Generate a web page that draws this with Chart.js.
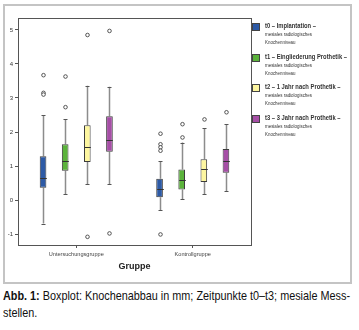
<!DOCTYPE html>
<html>
<head>
<meta charset="utf-8">
<script src="https://cdn.jsdelivr.net/npm/chart.js@4"></script>
<style>
body{margin:0;width:359px;height:330px;background:#fff;position:relative;overflow:hidden;font-family:"Liberation Sans",Arial,sans-serif;}
#rahmen{position:absolute;left:3px;top:4px;width:345px;height:276px;border:2px solid #c4c4c4;}
#chart{position:absolute;left:0;top:0;}
#legende{position:absolute;left:252px;top:23px;}
.eintrag{position:relative;height:30.5px;}
.farbe{position:absolute;left:0;top:0;width:6px;height:6px;border:1px solid #444;}
.txt{position:absolute;left:13px;top:-1px;white-space:nowrap;color:#333;}
.txt b,.txt span{display:block;transform-origin:0 50%;white-space:nowrap;width:max-content;}
.txt b{font-size:7px;line-height:8px;}
.txt span{font-size:5.5px;line-height:8px;}
#caption{position:absolute;left:3px;top:287px;font-size:13px;line-height:17px;color:#111;white-space:nowrap;transform-origin:0 0;}
#caption span{display:inline-block;}
</style>
</head>
<body>
<div id="rahmen"></div>
<canvas id="chart" width="359" height="284"></canvas>
<div id="legende"></div>
<div id="caption"><span id="zeile1"><b>Abb. 1:</b> Boxplot: Knochenabbau in mm; Zeitpunkte t0–t3; mesiale Mess-</span><br>stellen.</div>
<script>
// Gruppen und Zeitpunkte
const gruppen = ['Untersuchungsgruppe', 'Kontrollgruppe'];
const zeitpunkte = ['t0 – Implantation –', 't1 – Eingliederung Prothetik –', 't2 – 1 Jahr nach Prothetik –', 't3 – 3 Jahr nach Prothetik –'];
const zusatz = ['mesiales radiologisches', 'Knochenniveau'];
const farben = ['#2d5aa6', '#5bb33b', '#fdf6a0', '#a64ea6'];

// [min, q1, median, q3, max] je Gruppe
const t0 = [[-0.69, 0.36, 0.64, 1.29, 2.50], [-0.29, 0.08, 0.34, 0.63, 1.14]];
const t1 = [[0.18, 0.86, 1.15, 1.64, 2.38], [0.02, 0.31, 0.59, 0.90, 1.69]];
const t2 = [[0.46, 1.12, 1.55, 2.20, 3.36], [0.18, 0.53, 0.90, 1.20, 2.11]];
const t3 = [[0.46, 1.42, 1.76, 2.46, 3.33], [0.26, 0.80, 1.15, 1.50, 2.23]];

// Ausreisser je Gruppe
const t0Aus = [[3.67, 3.15, 3.10], [1.95, 1.64, 1.55, 1.45, -1.01]];
const t1Aus = [[3.63, 2.73], [2.23, 1.84]];
const t2Aus = [[4.85, -1.08], [2.37]];
const t3Aus = [[4.97, -0.98], [2.58]];

const yTicks = [-1, 0, 1, 2, 3, 4, 5];

const kennwerte = [t0, t1, t2, t3];
const ausreisser = [t0Aus, t1Aus, t2Aus, t3Aus];

// legende als html, schmal gestaucht wie im original
const leg = document.getElementById('legende');
zeitpunkte.forEach((z, i) => {
    const e = document.createElement('div');
    e.className = 'eintrag';
    e.innerHTML = '<div class="farbe" style="background:' + farben[i] + '"></div>' +
        '<div class="txt"><b>' + z + '</b><span>' + zusatz[0] + '</span><span>' + zusatz[1] + '</span></div>';
    leg.appendChild(e);
});
const fetteZeilen = leg.querySelectorAll('.txt b');
const kB = 82 / fetteZeilen[1].getBoundingClientRect().width;
fetteZeilen.forEach(b => b.style.transform = 'scaleX(' + kB + ')');
const duenneZeilen = leg.querySelectorAll('.txt span');
const kS = 47 / duenneZeilen[0].getBoundingClientRect().width;
duenneZeilen.forEach(s => s.style.transform = 'scaleX(' + kS + ')');

const cap = document.getElementById('caption');
const kC = 347 / document.getElementById('zeile1').getBoundingClientRect().width;
cap.style.transform = 'scaleX(' + kC + ')';

const boxPlugin = {
    id: 'boxplot',
    beforeDatasetsDraw(chart) {
        const ctx = chart.ctx, y = chart.scales.y;
        ctx.save();
        kennwerte.forEach((serie, i) => {
            chart.getDatasetMeta(i).data.forEach((bar, j) => {
                const [mn, q1, , q3, mx] = serie[j];
                const x = Math.round(bar.x) + 0.5;
                ctx.strokeStyle = '#8c8c8c';
                ctx.lineWidth = 1.5;
                ctx.beginPath();
                ctx.moveTo(x, y.getPixelForValue(mn));
                ctx.lineTo(x, y.getPixelForValue(q1));
                ctx.moveTo(x, y.getPixelForValue(q3));
                ctx.lineTo(x, y.getPixelForValue(mx));
                ctx.stroke();
                ctx.strokeStyle = '#555';
                ctx.lineWidth = 1;
                ctx.beginPath();
                [mn, mx].forEach(v => {
                    const py = Math.round(y.getPixelForValue(v)) + 0.5;
                    ctx.moveTo(x - 2, py);
                    ctx.lineTo(x + 2, py);
                });
                ctx.stroke();
            });
        });
        ctx.restore();
    },
    afterDatasetsDraw(chart) {
        const ctx = chart.ctx, y = chart.scales.y, a = chart.chartArea;
        ctx.save();
        kennwerte.forEach((serie, i) => {
            chart.getDatasetMeta(i).data.forEach((bar, j) => {
                const x = Math.round(bar.x) + 0.5;
                const py = Math.round(y.getPixelForValue(serie[j][2])) + 0.5;
                ctx.strokeStyle = '#333';
                ctx.lineWidth = 1;
                ctx.beginPath();
                ctx.moveTo(x - bar.width / 2, py);
                ctx.lineTo(x + bar.width / 2, py);
                ctx.stroke();
                ausreisser[i][j].forEach(v => {
                    ctx.beginPath();
                    ctx.arc(x, y.getPixelForValue(v), 1.8, 0, Math.PI * 2);
                    ctx.fillStyle = '#fff';
                    ctx.fill();
                    ctx.lineWidth = 0.9;
                    ctx.strokeStyle = '#444';
                    ctx.stroke();
                });
            });
        });
        // rahmen um plotbereich
        ctx.strokeStyle = '#555';
        ctx.lineWidth = 1;
        ctx.strokeRect(Math.round(a.left) + 0.5, Math.round(a.top) + 0.5, Math.round(a.right - a.left), Math.round(a.bottom - a.top));
        ctx.restore();
    }
};

new Chart(document.getElementById('chart'), {
    type: 'bar',
    data: {
        labels: gruppen,
        datasets: zeitpunkte.map((z, i) => ({
            label: z,
            data: kennwerte[i].map(k => [k[1], k[3]]),
            backgroundColor: farben[i],
            borderColor: '#3c3c3c',
            borderWidth: 1,
            borderSkipped: false,
            barPercentage: 0.3,
            categoryPercentage: 0.76
        }))
    },
    options: {
        responsive: false,
        devicePixelRatio: 1,
        animation: false,
        layout: { padding: { left: 0, right: 108, top: 18, bottom: 0 } },
        plugins: { legend: { display: false }, tooltip: { enabled: false } },
        scales: {
            x: {
                afterFit: s => { s.height = 39; },
                grid: { offset: false, drawOnChartArea: false, tickLength: 3, color: '#555' },
                border: { color: '#555' },
                ticks: { color: '#444', padding: 3, font: { family: '"Liberation Sans", sans-serif', size: 5.6 } },
                title: {
                    display: true, text: 'Gruppe', color: '#222',
                    font: { family: '"Liberation Sans", sans-serif', size: 9, weight: 'bold' },
                    padding: { top: 0, bottom: 12 }
                }
            },
            y: {
                min: -1.32,
                max: 5.35,
                afterFit: s => { s.width = 18; },
                afterBuildTicks: s => { s.ticks = yTicks.map(v => ({ value: v })); },
                grid: { drawOnChartArea: false, tickLength: 3, color: '#555' },
                border: { color: '#555' },
                ticks: { color: '#333', padding: 2, font: { family: '"Liberation Sans", sans-serif', size: 6 } }
            }
        }
    },
    plugins: [boxPlugin]
});
</script>
</body>
</html>
